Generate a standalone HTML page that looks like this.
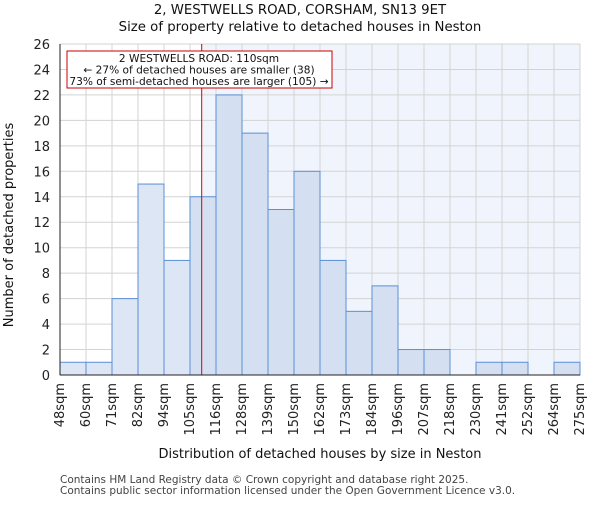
<!DOCTYPE html>
<html><head><meta charset="utf-8"><style>
body{margin:0;background:#fff}
svg{font-family:"DejaVu Sans","Liberation Sans",sans-serif}
</style></head><body>
<svg id="c" width="600" height="500"></svg>
<script>
const binEdges=[48,60,71,82,94,105,116,128,139,150,162,173,184,196,207,218,230,241,252,264,275];
const counts=[1,1,6,15,9,14,22,19,13,16,9,5,7,2,2,0,1,1,0,1];
const yTicks=[0,2,4,6,8,10,12,14,16,18,20,22,24,26];
const markerIndex=5.45;
const NS="http://www.w3.org/2000/svg";
const svg=document.getElementById('c');
const L=60,R=580,T=44,B=375,yMax=26;
const bw=(R-L)/counts.length;
const xi=i=>L+i*bw;
const y=v=>B-v/yMax*(B-T);
function el(t,a,txt){const e=document.createElementNS(NS,t);for(const k in a)e.setAttribute(k,a[k]);if(txt!==undefined)e.textContent=txt;svg.appendChild(e);return e;}
const mx=xi(markerIndex);
let e;
e=el('rect',{x:L,y:T,width:R-L,height:B-T,fill:'#fff'});


e=el('rect',{x:mx,y:T,width:R-mx,height:B-T,fill:'#f0f4fc'});


yTicks.forEach(v=>{
 e=el('line',{x1:L,x2:R,y1:y(v),y2:y(v),stroke:'#d3d3d3','stroke-width':1});
 
 
 e=el('text',{x:L-10,y:y(v)+5,'text-anchor':'end','font-size':13,fill:'#222'},v);
 
 
});
binEdges.forEach((b,i)=>{
 e=el('line',{x1:xi(i),x2:xi(i),y1:T,y2:B,stroke:'#d3d3d3','stroke-width':1});
 
 
 const tx=xi(i)+4;
 e=el('text',{x:tx,y:B+8,'text-anchor':'end','font-size':13,fill:'#222',transform:`rotate(-90 ${tx} ${B+8})`},b+'sqm');
 
 
});
counts.forEach((c,i)=>{
 if(c<=0)return;
 e=el('rect',{x:xi(i),y:y(c),width:bw,height:B-y(c),fill:i<markerIndex-0.5?'#dce6f4':'#d4e0f2',stroke:'#5b8fd6','stroke-width':1});
 
 
});
e=el('line',{x1:mx,x2:mx,y1:T,y2:B,stroke:'#dd0000','stroke-width':1});


e=el('rect',{x:67,y:51,width:265,height:37,fill:'#fff',stroke:'#cc0000','stroke-width':1});


[['2 WESTWELLS ROAD: 110sqm',62],['← 27% of detached houses are smaller (38)',73.5],['73% of semi-detached houses are larger (105) →',85]].forEach(([t,yy])=>{
 e=el('text',{x:199,y:yy,'text-anchor':'middle','font-size':10.6,fill:'#111'},t);
 
 
});
e=el('line',{x1:L,x2:L,y1:T,y2:B,stroke:'#222'});
e=el('line',{x1:L,x2:R,y1:B,y2:B,stroke:'#222'});
e=el('text',{x:300,y:14,'text-anchor':'middle','font-size':13.3,fill:'#111'},'2, WESTWELLS ROAD, CORSHAM, SN13 9ET');

e=el('text',{x:300,y:31,'text-anchor':'middle','font-size':13.3,fill:'#111'},'Size of property relative to detached houses in Neston');

e=el('text',{x:320,y:458,'text-anchor':'middle','font-size':13,fill:'#111'},'Distribution of detached houses by size in Neston');

e=el('text',{x:13,y:225,'text-anchor':'middle','font-size':13,fill:'#111',transform:'rotate(-90 13 225)'},'Number of detached properties');

e=el('text',{x:60,y:483,'font-size':10.5,fill:'#444'},'Contains HM Land Registry data © Crown copyright and database right 2025.');

e=el('text',{x:60,y:494,'font-size':10.5,fill:'#444'},'Contains public sector information licensed under the Open Government Licence v3.0.');

</script>
</body></html>
